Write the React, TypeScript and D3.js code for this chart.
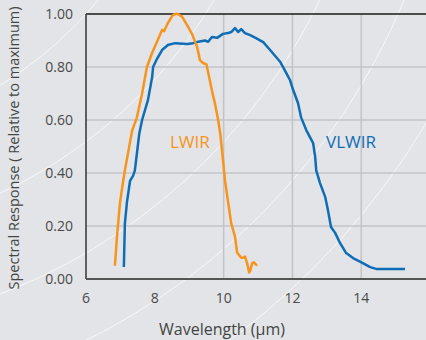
import { useEffect, useRef } from 'react';
import * as d3 from 'd3';

const lwirWavelength = [6.84, 6.90, 6.99, 7.08, 7.13, 7.34, 7.48, 7.63, 7.77, 7.92, 8.06, 8.21, 8.27, 8.32, 8.38, 8.52, 8.60, 8.67, 8.79, 8.93, 9.08, 9.23, 9.31, 9.40, 9.50, 9.58, 9.66, 9.75, 9.84, 9.90, 9.98, 10.04, 10.13, 10.22, 10.33, 10.39, 10.51, 10.56, 10.62, 10.68, 10.74, 10.77, 10.83, 10.88, 10.97];
const lwirResponse = [0.05, 0.16, 0.29, 0.37, 0.41, 0.56, 0.61, 0.70, 0.80, 0.853, 0.894, 0.94, 0.935, 0.95, 0.966, 0.996, 1.0, 1.0, 0.99, 0.96, 0.925, 0.875, 0.826, 0.815, 0.81, 0.76, 0.71, 0.66, 0.60, 0.55, 0.45, 0.37, 0.29, 0.21, 0.16, 0.10, 0.08, 0.08, 0.085, 0.06, 0.025, 0.03, 0.06, 0.063, 0.05];

const vlwirWavelength = [7.10, 7.13, 7.19, 7.28, 7.37, 7.42, 7.55, 7.63, 7.80, 7.92, 7.95, 8.06, 8.21, 8.38, 8.59, 8.94, 9.11, 9.26, 9.46, 9.55, 9.66, 9.81, 9.98, 10.13, 10.22, 10.33, 10.42, 10.51, 10.62, 10.77, 10.94, 11.15, 11.35, 11.64, 11.81, 11.93, 12.02, 12.16, 12.25, 12.40, 12.60, 12.66, 12.69, 12.80, 12.95, 13.03, 13.12, 13.24, 13.38, 13.56, 13.76, 13.99, 14.26, 14.43, 14.72, 15.27];
const vlwirResponse = [0.045, 0.21, 0.29, 0.37, 0.39, 0.41, 0.55, 0.60, 0.675, 0.76, 0.80, 0.83, 0.864, 0.883, 0.89, 0.887, 0.89, 0.895, 0.90, 0.895, 0.913, 0.91, 0.925, 0.928, 0.932, 0.947, 0.932, 0.943, 0.928, 0.92, 0.909, 0.894, 0.864, 0.82, 0.78, 0.75, 0.713, 0.664, 0.61, 0.562, 0.513, 0.46, 0.41, 0.362, 0.31, 0.26, 0.196, 0.174, 0.136, 0.098, 0.079, 0.064, 0.045, 0.038, 0.038, 0.038];

const xTicks = [6, 8, 10, 12, 14];
const xGrid = [10, 12, 14];
const yTicks = [0, 0.2, 0.4, 0.6, 0.8, 1.0];

// faint decorative rings in the background
const ringRadii = [400, 495, 588, 665, 740];

const W = 426;
const H = 340;
const FONT = '"Open Sans", "Noto Sans", sans-serif';

const App = () => {
  const svgRef = useRef<SVGSVGElement | null>(null);

  useEffect(() => {
    const svg = d3.select(svgRef.current);
    svg.selectAll('*').remove();

    const left = 86, right = 426, top = 14, bottom = 279;
    const x = d3.scaleLinear().domain([6, 15.88]).range([left, right]);
    const y = d3.scaleLinear().domain([0, 1]).range([bottom, top]);

    svg.append('rect').attr('width', W).attr('height', H).attr('fill', '#e2e4e7');

    svg.append('g')
      .selectAll('circle')
      .data(ringRadii)
      .enter().append('circle')
      .attr('cx', -210)
      .attr('cy', -255)
      .attr('r', d => d)
      .attr('fill', 'none')
      .attr('stroke', '#ffffff')
      .attr('stroke-opacity', 0.7)
      .attr('stroke-width', 1);

    // grid
    svg.append('g')
      .selectAll('line')
      .data(yTicks.filter(t => t > 0 && t < 1))
      .enter().append('line')
      .attr('x1', left).attr('x2', right)
      .attr('y1', d => y(d)).attr('y2', d => y(d))
      .attr('stroke', '#c2c4c7')
      .attr('stroke-width', 1.5);

    svg.append('g')
      .selectAll('line')
      .data(xGrid)
      .enter().append('line')
      .attr('x1', d => x(d)).attr('x2', d => x(d))
      .attr('y1', top).attr('y2', bottom)
      .attr('stroke', '#c2c4c7')
      .attr('stroke-width', 1.5);

    // frame
    svg.append('line')
      .attr('x1', left).attr('x2', right).attr('y1', top).attr('y2', top)
      .attr('stroke', '#1a1a1a').attr('stroke-width', 1.5);
    svg.append('line')
      .attr('x1', left).attr('x2', left).attr('y1', top).attr('y2', bottom)
      .attr('stroke', '#333').attr('stroke-width', 1.5);
    svg.append('line')
      .attr('x1', left).attr('x2', right).attr('y1', bottom).attr('y2', bottom)
      .attr('stroke', '#555').attr('stroke-width', 2);

    // tick labels
    svg.append('g')
      .selectAll('text')
      .data(yTicks)
      .enter().append('text')
      .attr('x', 73)
      .attr('y', d => y(d))
      .attr('dy', '0.35em')
      .attr('text-anchor', 'end')
      .style('font-family', FONT)
      .style('font-size', '14px')
      .style('fill', '#4a4a4a')
      .text(d => d.toFixed(2));

    svg.append('g')
      .selectAll('text')
      .data(xTicks)
      .enter().append('text')
      .attr('x', d => x(d))
      .attr('y', 303)
      .attr('text-anchor', 'middle')
      .style('font-family', FONT)
      .style('font-size', '14px')
      .style('fill', '#4a4a4a')
      .text(d => d);

    // axis titles
    svg.append('text')
      .attr('x', 222).attr('y', 335)
      .attr('text-anchor', 'middle')
      .style('font-family', FONT)
      .style('font-size', '16px')
      .style('fill', '#444')
      .text('Wavelength (μm)');

    svg.append('text')
      .attr('transform', 'translate(19,148) rotate(-90)')
      .attr('text-anchor', 'middle')
      .style('font-family', FONT)
      .style('font-size', '14.5px')
      .style('fill', '#444')
      .text('Spectral Response ( Relative to maximum)');

    // curves
    const line = d3.line<[number, number]>()
      .x(d => x(d[0]))
      .y(d => y(d[1]));

    const lwir = lwirWavelength.map((w, i) => [w, lwirResponse[i]] as [number, number]);
    const vlwir = vlwirWavelength.map((w, i) => [w, vlwirResponse[i]] as [number, number]);

    svg.append('path')
      .attr('d', line(vlwir))
      .attr('fill', 'none')
      .attr('stroke', '#0f6db5')
      .attr('stroke-width', 2.5)
      .attr('stroke-linejoin', 'round');

    svg.append('path')
      .attr('d', line(lwir))
      .attr('fill', 'none')
      .attr('stroke', '#f7941d')
      .attr('stroke-width', 2.5)
      .attr('stroke-linejoin', 'round');

    svg.append('text')
      .attr('x', 170).attr('y', 148)
      .style('font-family', FONT)
      .style('font-size', '17px')
      .style('fill', '#f7941d')
      .text('LWIR');

    svg.append('text')
      .attr('x', 326).attr('y', 148)
      .style('font-family', FONT)
      .style('font-size', '17px')
      .style('fill', '#0f6db5')
      .text('VLWIR');
  }, []);

  return (
    <svg ref={svgRef} width={W} height={H}
      style={{ position: 'absolute', left: 0, top: 0, display: 'block' }} />
  );
};

export default App;
